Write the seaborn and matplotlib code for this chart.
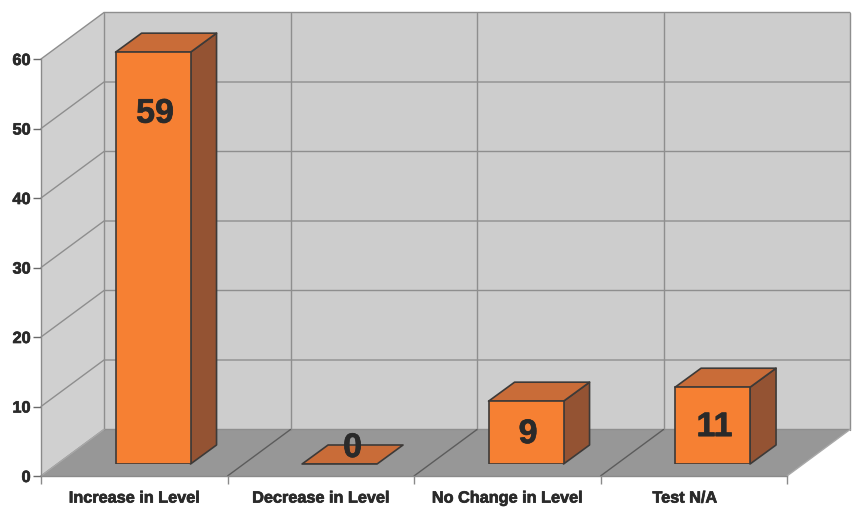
import matplotlib
matplotlib.use("Agg")
import matplotlib.pyplot as plt
from matplotlib.patches import Polygon
from matplotlib.patheffects import withStroke
from matplotlib.transforms import ScaledTranslation
import seaborn as sns

categories = ["Increase in Level", "Decrease in Level", "No Change in Level", "Test N/A"]
values = [59, 0, 9, 11]
y_ticks = [0, 10, 20, 30, 40, 50, 60]

FACE = "#f68033"
TOP = "#c96c38"
SIDE = "#945333"
EDGE = "#3d3a38"
WALL = "#cdcdcd"
SIDE_WALL = "#d0d0d0"
FLOOR = "#979797"
GRID = "#8e8e8e"
INK = "#2a2a2a"

W, H = 860, 508
sns.set_theme(style="white")
plt.rcParams["font.family"] = ["Liberation Sans", "DejaVu Sans"]
fig = plt.figure(figsize=(W / 100, H / 100), dpi=100, facecolor="white")


def axes_px(left, right, bottom, top, **kw):
    return fig.add_axes([left / W, 1 - bottom / H, (right - left) / W, (bottom - top) / H], **kw)


# Perspective frame of the box, in pixels
X0, X1, Y0, Y60 = 41, 787, 476, 59
DX, DY = 63, 46.5
unit_y = (Y0 - Y60) / 60
step_x = (X1 - X0) / len(categories)
heavy = [withStroke(linewidth=0.5, foreground=INK)]

room = axes_px(0, W, H, 0, zorder=0)
room.set_xlim(0, W)
room.set_ylim(H, 0)
room.axis("off")

room.add_patch(Polygon([(X0 + DX, Y0 - DY), (X1 + DX, Y0 - DY), (X1 + DX, Y60 - DY), (X0 + DX, Y60 - DY)],
                       fc=WALL, ec="none"))
room.add_patch(Polygon([(X0, Y0), (X0 + DX, Y0 - DY), (X0 + DX, Y60 - DY), (X0, Y60)],
                       fc=SIDE_WALL, ec="none"))
room.add_patch(Polygon([(X0, Y0), (X1, Y0), (X1 + DX, Y0 - DY), (X0 + DX, Y0 - DY)],
                       fc=FLOOR, ec="none"))

# Grid on the back and left walls
for tick in y_ticks:
    yy = Y0 - tick * unit_y
    room.plot([X0, X0 + DX, X1 + DX], [yy, yy - DY, yy - DY], color=GRID, lw=1.0, solid_joinstyle="miter")
for i in range(len(categories) + 1):
    xx = X0 + i * step_x
    room.plot([xx + DX, xx + DX], [Y60 - DY, Y0 - DY], color=GRID, lw=1.0)
    inner = 0 < i < len(categories)
    room.plot([xx, xx + DX], [Y0, Y0 - DY], color="#5c5c5c" if inner else "#a8a8a8", lw=1.0)

# Front plane carries the axis ticks and labels
front = axes_px(X0, X1, Y0, Y60, zorder=1)
front.patch.set_alpha(0)
front.set_xlim(0, len(categories))
front.set_ylim(0, 60)
for side in ("top", "right"):
    front.spines[side].set_visible(False)
for side in ("left", "bottom"):
    front.spines[side].set_color("#8a8a8a")
    front.spines[side].set_linewidth(1.0)
front.set_yticks(y_ticks)
front.set_xticks(range(len(categories) + 1))
front.set_xticklabels([])
front.set_xticks([i + 0.5 for i in range(len(categories))], minor=True)
front.set_xticklabels(categories, minor=True, fontsize=11.7, fontweight="bold", color=INK, path_effects=heavy)
front.tick_params(axis="x", which="major", bottom=True, length=6, width=1, color="#8a8a8a")
front.tick_params(axis="x", which="minor", bottom=False, length=0, pad=10.5)
front.tick_params(axis="y", left=True, length=6, width=1, color="#6a6a6a", pad=1.5, labelcolor=INK)
for lab in front.get_yticklabels():
    lab.set_fontsize(11.7)
    lab.set_fontweight("bold")
    lab.set_path_effects(heavy)
# The last category label sits a little left of its slot
last = front.get_xticklabels(minor=True)[-1]
last.set_transform(last.get_transform() + ScaledTranslation(-9 / 100, 0, fig.dpi_scale_trans))

# Bars stand slightly inside the floor
BASE_X, BASE_Y = 18.8, 12
bars = axes_px(X0 + BASE_X, X1 + BASE_X, Y0 - BASE_Y, Y60 - BASE_Y - 1.8, zorder=2)
sns.barplot(x=categories, y=values, ax=bars, color=FACE, saturation=1, width=0.402,
            edgecolor=EDGE, linewidth=1.2, zorder=3)
bars.set_xlim(-0.5, len(categories) - 0.5)
bars.set_ylim(0, 60)
bars.axis("off")

bar_unit = (Y0 - Y60 + 1.8) / 60
depth_x = 26 / step_x
depth_y = 19 / bar_unit
for patch, val in zip(bars.patches, values):
    x_l, x_r = patch.get_x(), patch.get_x() + patch.get_width()
    if val > 0:
        bars.add_patch(Polygon([(x_r, 0), (x_r + depth_x, depth_y), (x_r + depth_x, val + depth_y), (x_r, val)],
                               fc=SIDE, ec=EDGE, lw=1.2, clip_on=False, zorder=2, joinstyle="round"))
    bars.add_patch(Polygon([(x_l, val), (x_r, val), (x_r + depth_x, val + depth_y), (x_l + depth_x, val + depth_y)],
                           fc=TOP, ec=EDGE, lw=1.2, clip_on=False, zorder=2, joinstyle="round"))
    # Value labels: mid-bar for short bars, near the top for tall ones, on the top face of an empty bar
    centre = (x_l + x_r) / 2 + 2 / step_x
    if val > 0:
        label_y = val - min(60, val * bar_unit / 2) / bar_unit + 1.5 / bar_unit
    else:
        label_y = depth_y
        centre += depth_x / 2 - 2 / step_x
    bars.text(centre, label_y, str(val), ha="center", va="center_baseline", fontsize=24.5,
              fontweight="bold", color=INK, zorder=6, clip_on=False, path_effects=heavy)

fig.savefig("out.png", dpi=100)
